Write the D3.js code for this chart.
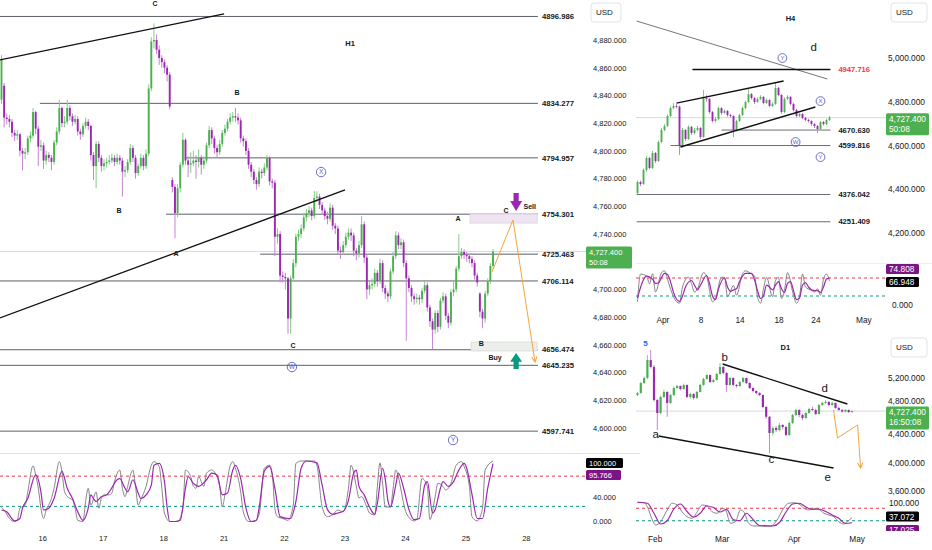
<!DOCTYPE html>
<html>
<head>
<meta charset="utf-8">
<script src="https://cdn.jsdelivr.net/npm/d3@7/dist/d3.min.js"></script>
<style>
body { margin: 0; background: #fff; }
svg { display: block; font-family: "Liberation Sans", Arial, sans-serif; }
</style>
</head>
<body>
<svg id="chart" width="932" height="550"></svg>
<script>

// ---------- H1 data (open, high, low, close) ----------
const h1Candles = [
[4837,4869,4834,4866],[4847,4849,4817,4824],[4824,4827,4819,4823],[4823,4826,4817,4821],[4821,4823,4810,4813],
[4813,4815,4807,4811],[4811,4815,4808,4812],[4812,4813,4796,4800],[4800,4802,4786,4798],[4798,4802,4794,4799],
[4799,4811,4797,4809],[4809,4814,4806,4811],[4811,4831,4809,4828],[4828,4829,4812,4816],[4816,4818,4789,4803],
[4803,4808,4800,4804],[4804,4806,4787,4793],[4793,4800,4790,4797],[4797,4799,4792,4795],[4795,4797,4786,4792],
[4792,4808,4790,4806],[4806,4817,4804,4814],[4814,4837,4812,4831],[4831,4832,4817,4820],[4820,4825,4817,4821],
[4821,4837,4819,4831],[4831,4833,4822,4825],[4825,4827,4818,4821],[4821,4826,4819,4823],[4823,4825,4811,4814],
[4814,4816,4808,4812],[4812,4820,4810,4818],[4818,4824,4816,4821],[4821,4823,4815,4818],[4818,4819,4793,4797],
[4797,4799,4779,4789],[4789,4807,4773,4805],[4805,4807,4792,4795],[4795,4797,4785,4789],[4789,4794,4786,4791],
[4791,4795,4788,4792],[4792,4797,4790,4793],[4793,4798,4791,4795],[4795,4797,4789,4792],[4792,4798,4790,4795],
[4795,4797,4790,4793],[4793,4795,4767,4785],[4785,4789,4781,4786],[4786,4794,4784,4792],[4792,4805,4790,4802],
[4802,4804,4792,4795],[4795,4797,4780,4784],[4784,4791,4782,4789],[4789,4798,4787,4795],[4795,4797,4786,4789],
[4789,4801,4787,4798],[4798,4848,4796,4845],[4845,4882,4843,4879],[4879,4892,4874,4880],[4880,4884,4870,4873],
[4873,4876,4862,4867],[4867,4869,4860,4864],[4864,4866,4856,4860],[4860,4862,4850,4855],[4855,4857,4830,4832],
[4779,4781,4770,4774],[4774,4776,4737,4755],[4755,4776,4752,4773],[4773,4792,4770,4790],[4790,4813,4788,4808],
[4808,4809,4790,4793],[4793,4796,4781,4790],[4790,4799,4784,4791],[4791,4800,4789,4793],[4793,4797,4780,4792],
[4792,4801,4788,4795],[4795,4797,4783,4790],[4790,4796,4787,4793],[4793,4806,4791,4804],[4804,4818,4802,4815],
[4815,4817,4805,4809],[4809,4811,4798,4802],[4802,4804,4795,4799],[4799,4808,4797,4805],[4805,4815,4803,4813],
[4813,4819,4811,4816],[4816,4823,4814,4821],[4821,4827,4819,4824],[4824,4828,4821,4825],[4825,4831,4821,4824],
[4824,4827,4819,4822],[4822,4824,4806,4809],[4809,4811,4803,4807],[4807,4809,4797,4800],[4800,4802,4787,4790],
[4790,4792,4781,4785],[4785,4787,4776,4779],[4779,4781,4772,4776],[4776,4788,4774,4785],[4785,4787,4780,4784],
[4784,4791,4782,4788],[4788,4797,4786,4795],[4795,4796,4775,4778],[4778,4780,4773,4777],[4777,4779,4724,4738],
[4738,4744,4733,4740],[4740,4742,4705,4710],[4710,4713,4705,4709],[4709,4712,4700,4708],[4708,4709,4668,4679],
[4679,4710,4668,4708],[4708,4722,4706,4719],[4719,4740,4716,4738],[4738,4743,4735,4740],[4740,4747,4737,4744],
[4744,4755,4742,4752],[4752,4758,4749,4755],[4755,4760,4752,4757],[4757,4759,4750,4753],[4753,4771,4751,4766],
[4766,4771,4763,4767],[4767,4769,4758,4761],[4761,4763,4754,4757],[4757,4759,4750,4753],[4753,4756,4747,4751],
[4751,4762,4749,4759],[4759,4761,4743,4746],[4746,4748,4740,4744],[4744,4746,4725,4728],[4728,4731,4722,4727],
[4727,4735,4725,4732],[4732,4741,4730,4738],[4738,4744,4736,4741],[4741,4744,4735,4739],[4739,4741,4724,4728],
[4728,4730,4721,4726],[4726,4735,4723,4732],[4732,4753,4730,4747],[4747,4749,4719,4723],[4723,4725,4693,4700],
[4700,4706,4696,4703],[4703,4708,4700,4704],[4704,4715,4702,4712],[4712,4714,4702,4706],[4706,4722,4704,4719],
[4719,4721,4698,4701],[4701,4703,4693,4697],[4697,4699,4691,4695],[4695,4715,4693,4713],[4713,4727,4711,4724],
[4724,4742,4722,4739],[4739,4741,4729,4732],[4732,4737,4729,4734],[4734,4736,4716,4719],[4719,4721,4663,4708],
[4708,4710,4698,4701],[4701,4703,4691,4695],[4695,4697,4689,4693],[4693,4697,4690,4694],[4694,4696,4689,4693],
[4693,4701,4690,4699],[4699,4706,4697,4703],[4703,4705,4684,4687],[4687,4689,4673,4677],[4677,4679,4657,4671],
[4671,4685,4668,4683],[4683,4685,4669,4673],[4673,4694,4671,4692],[4692,4698,4690,4695],[4695,4697,4678,4681],
[4681,4683,4672,4676],[4676,4700,4674,4698],[4698,4707,4695,4700],[4700,4717,4698,4715],[4715,4740,4713,4724],
[4724,4730,4722,4727],[4727,4729,4722,4725],[4725,4727,4720,4724],[4724,4726,4719,4722],[4722,4724,4716,4719],
[4719,4721,4707,4710],[4710,4712,4702,4705],[4697,4698,4680,4684],[4684,4686,4672,4679],[4679,4699,4676,4697],
[4697,4708,4695,4706],[4706,4719,4704,4717],[4717,4729,4715,4727.4]
];

// stochastic turning points [bar, value]
const h1StochK = [[0,23],[1,19],[3,5],[5,0],[6,2],[7,22],[9,27],[10,49],[12,92],[13,77],[14,55],[15,22],[16,5],[17,19],[19,38],[20,55],[22,99],[23,82],[24,49],[26,38],[27,36],[28,22],[29,2],[31,0],[32,33],[33,55],[34,27],[36,49],[37,22],[38,38],[39,44],[41,44],[42,47],[43,66],[45,85],[46,55],[47,41],[48,58],[50,85],[51,58],[52,27],[53,36],[55,58],[57,93],[58,99],[60,91],[61,55],[62,14],[64,0],[65,0],[67,0],[69,22],[70,85],[72,74],[73,58],[74,55],[75,74],[77,58],[78,80],[80,85],[81,82],[83,58],[84,24],[85,44],[87,92],[88,99],[89,88],[91,49],[92,16],[94,0],[96,0],[98,11],[100,88],[102,93],[103,80],[104,22],[105,8],[107,5],[109,2],[111,27],[112,96],[114,100],[119,100],[120,93],[122,24],[124,8],[126,11],[128,19],[130,16],[132,55],[133,93],[135,58],[136,39],[137,41],[139,24],[140,14],[142,11],[143,58],[144,97],[145,63],[146,24],[148,24],[149,55],[150,85],[151,74],[152,52],[153,30],[154,14],[157,1],[158,3],[160,71],[162,58],[163,3],[165,41],[166,63],[168,58],[169,52],[171,63],[173,93],[175,99],[176,91],[178,58],[179,8],[181,1],[183,22],[184,85],[187,100]];
const h1StochD = [[0,19],[2,16],[5,1],[7,5],[8,22],[10,38],[13,77],[15,49],[16,19],[18,22],[20,38],[23,83],[25,55],[27,38],[29,16],[31,2],[33,22],[34,44],[35,38],[36,33],[38,41],[40,44],[41,49],[44,69],[45,71],[47,55],[48,49],[50,69],[52,47],[53,38],[55,44],[57,60],[58,93],[60,96],[62,66],[63,24],[64,0],[66,0],[68,2],[70,55],[71,74],[73,63],[75,58],[78,69],[80,80],[82,77],[84,44],[86,47],[88,85],[89,93],[91,71],[93,22],[95,0],[97,2],[98,22],[100,83],[102,91],[104,55],[106,8],[109,5],[110,5],[112,33],[114,88],[116,100],[120,97],[122,60],[124,20],[126,12],[128,14],[130,17],[132,35],[134,80],[135,85],[136,58],[138,44],[140,24],[142,12],[143,30],[145,88],[146,70],[147,35],[148,24],[150,60],[151,80],[153,55],[155,20],[157,3],[159,5],[161,60],[162,66],[164,14],[165,20],[167,55],[168,66],[170,58],[172,66],[174,85],[176,96],[177,88],[179,45],[181,5],[183,5],[185,55],[187,95.766]];

const h1Levels = [4896.986, 4834.277, 4794.957, 4754.301, 4725.463, 4706.114, 4656.474, 4645.235, 4597.741];
const h1LevelStart = [-1, 14.6, 70.2, 62.6, 98.4, -1, -1, -1, -1];
const h1LevelEnd = 204.1;
const h1Trends = [[[-0.6,4865.6],[84.7,4898.8]], [[-0.6,4679.4],[130.7,4771.8]]];
const h1Letters = [["C",58.4,4906],["B",89.6,4841.8],["B",44.7,4756.6],["A",66.4,4725.6],["C",110.9,4659.2],["A",173.7,4750.8],["C",192,4756.6],["B",182.5,4661.3]];
const h1Circles = [["X",121.6,4784.7],["W",110.5,4644],["Y",171.8,4591.3]];
const h1Projection = [[186.6,4712.6],[194.6,4750.1],[203,4647.6]];
const h1SellZone = [178.3, 203.8, 4754.4, 4747.9];
const h1BuyZone = [178.7, 203.8, 4662, 4655.6];
const h1SellArrow = [195.8, 4769.6, 4756.6];
const h1BuyArrow = [195.8, 4642.6, 4654.1];
const h1DayLabels = ["16","17","18","21","22","23","24","25","28"];
const h1DayBars = [15.5, 38.5, 61.5, 84.5, 107.5, 130.5, 153.5, 176.5, 199.5];
const h1PriceTicks = [4600,4620,4640,4660,4680,4700,4740,4760,4780,4800,4820,4840,4860,4880];
const lastPrice = 4727.4;

// ---------- H4 data ----------
const h4Candles = [
[4383,4440,4378,4433],[4433,4440,4415,4424],[4424,4495,4420,4488],[4488,4552,4480,4543],[4543,4548,4490,4497],
[4497,4575,4492,4566],[4566,4570,4520,4529],[4529,4622,4525,4616],[4616,4680,4610,4671],[4671,4698,4665,4689],
[4689,4742,4684,4735],[4735,4780,4730,4771],[4771,4795,4765,4781],[4781,4790,4770,4778],[4778,4782,4557,4598],
[4598,4680,4590,4671],[4671,4675,4620,4630],[4630,4692,4625,4685],[4685,4690,4648,4657],[4657,4680,4650,4671],
[4671,4690,4665,4680],[4680,4685,4630,4639],[4639,4854,4635,4817],[4817,4830,4800,4813],[4813,4818,4745,4753],
[4753,4758,4705,4712],[4712,4730,4705,4721],[4721,4778,4715,4771],[4771,4775,4740,4749],[4749,4765,4745,4758],
[4758,4762,4732,4739],[4739,4745,4728,4735],[4735,4738,4639,4671],[4671,4718,4665,4712],[4712,4745,4708,4739],
[4739,4778,4735,4771],[4771,4805,4765,4799],[4799,4858,4795,4835],[4835,4840,4810,4817],[4817,4822,4790,4799],
[4799,4820,4795,4813],[4813,4830,4808,4822],[4822,4826,4788,4794],[4794,4815,4790,4808],[4808,4812,4775,4781],
[4781,4798,4776,4790],[4790,4886,4786,4863],[4863,4868,4825,4831],[4831,4835,4745,4753],[4753,4820,4748,4813],
[4813,4830,4808,4822],[4822,4826,4784,4790],[4790,4795,4755,4762],[4762,4768,4728,4735],[4735,4750,4730,4744],
[4744,4748,4720,4726],[4726,4730,4710,4717],[4717,4722,4705,4712],[4712,4716,4690,4698],[4698,4702,4680,4689],
[4689,4694,4657,4675],[4675,4712,4670,4707],[4707,4712,4692,4698],[4698,4722,4694,4717],[4717,4735,4712,4727.4]
];
const h4StochK = [[0,9],[1,86],[3,81],[4,59],[5,87],[6,36],[8,90],[9,95],[10,72],[11,45],[13,9],[14,5],[15,50],[17,77],[18,59],[19,36],[20,45],[22,90],[23,81],[25,9],[26,18],[28,77],[29,77],[30,23],[32,54],[33,27],[35,87],[36,95],[38,86],[39,81],[40,23],[41,5],[42,45],[43,77],[45,23],[46,68],[47,77],[48,18],[49,41],[50,90],[52,27],[53,5],[54,23],[55,86],[56,50],[58,41],[59,36],[60,45],[61,27],[62,72],[63,86],[64,66.948]];
const h4StochD = [[0,20],[2,70],[3,80],[5,72],[6,60],[7,62],[9,88],[10,85],[11,65],[12,35],[14,10],[15,25],[16,50],[18,68],[19,55],[20,42],[21,55],[23,82],[24,60],[25,25],[26,15],[27,45],[29,75],[30,50],[31,38],[32,42],[33,45],[34,65],[36,88],[38,88],[39,70],[40,40],[41,18],[42,25],[43,55],[44,50],[45,42],[46,55],[47,65],[48,45],[49,35],[50,60],[51,65],[52,40],[53,15],[54,20],[55,55],[56,62],[57,50],[58,42],[59,40],[60,40],[61,35],[62,50],[63,72],[64,74.808]];
const h4Levels = [4947.716, 4670.630, 4599.816, 4376.042, 4251.409];
const h4LevelStart = [18.3, 28, 11, -0.3, -0.3];
const h4LevelEnd = 64.3;
const h4Channel = [[[13,4794],[48.7,4895]], [[14.3,4593],[59.3,4776]]];
const h4Trend = [[-0.3,5169],[63.3,4904]];
const h4Circles = [["Y",48.3,5000],["X",61,4803],["W",52.7,4616],["Y",61,4547]];
const h4Letters = [["d",58.7,5050]];
const h4DateLabels = ["Apr","8","14","18","24","May"];
const h4DateBars = [8.3, 21, 34, 47, 59.3, 75.3];
const h4PriceTicks = [4200, 4400, 4600, 4800, 5000];

// ---------- D1 data ----------
const d1Candles = [
[4955,5000,4940,4983],[4983,5140,4975,5125],[5125,5215,5110,5196],[5196,5521,5180,5451],[5451,5592,5330,5352],
[5352,5380,4860,4884],[4884,4900,4459,4700],[4700,4950,4680,4927],[4927,5030,4910,4998],[4998,5010,4647,4842],
[4842,4970,4830,4955],[4955,5075,4940,5054],[5054,5100,5040,5082],[5082,5090,5020,5040],[5040,5115,5030,5097],
[5097,5105,4910,4927],[4927,4990,4900,4969],[4969,4980,4890,4913],[4913,5010,4900,4998],[4998,5110,4990,5097],
[5097,5200,5085,5182],[5182,5250,5170,5238],[5238,5245,5125,5139],[5139,5185,5130,5167],[5167,5270,5160,5252],
[5252,5408,5245,5352],[5352,5365,5250,5267],[5267,5280,4998,5097],[5097,5210,5085,5196],[5196,5205,5080,5097],
[5097,5110,5060,5082],[5082,5150,5070,5139],[5139,5210,5130,5196],[5196,5200,5110,5125],[5125,5135,5040,5054],
[5054,5065,4995,5012],[5012,5020,4965,4983],[4983,4995,4940,4955],[4955,4965,4770,4785],[4785,4800,4620,4647],
[4647,4660,4134,4417],[4417,4510,4380,4488],[4488,4520,4430,4459],[4459,4560,4440,4530],[4530,4545,4470,4502],
[4502,4520,4370,4389],[4389,4580,4375,4559],[4559,4690,4545,4672],[4672,4760,4660,4743],[4743,4755,4640,4672],
[4672,4690,4600,4629],[4629,4715,4615,4700],[4700,4775,4690,4757],[4757,4790,4725,4743],[4743,4760,4670,4686],
[4686,4830,4680,4813],[4813,4860,4800,4842],[4842,4884,4830,4856],[4856,4870,4800,4813],[4813,4860,4805,4842],
[4842,4850,4760,4771],[4771,4790,4730,4743],[4743,4755,4705,4721],[4721,4755,4710,4743],[4743,4750,4700,4714],
[4714,4740,4705,4727.4]
];
const d1StochK = [[0,99],[2,98],[3,81],[4.5,28],[5.5,8],[7,21],[9,68],[10.5,95],[12,88],[13.5,61],[15,41],[16.6,35],[18.1,61],[19.6,88],[21.1,85],[22.6,61],[24.2,55],[25.7,75],[26.7,68],[28.2,15],[29.7,21],[31.2,68],[32.2,61],[33.7,15],[35.2,4],[38.3,4],[40.3,4],[42.3,28],[44.3,75],[45.8,95],[47.4,97],[48.9,92],[50.4,75],[51.9,68],[53.4,75],[54.9,71],[56.5,55],[58,48],[59.5,41],[61,21],[62.5,12],[63.5,21],[65,37.072]];
const d1StochD = [[0,99],[3,95],[5,55],[7,12],[9,25],[11,72],[13,92],[15,62],[17,40],[19,55],[21,84],[23,78],[25,60],[27,70],[29,30],[31,25],[33,55],[35,30],[37,6],[41,4],[43,18],[45,60],[47,92],[49,95],[51,80],[53,70],[55,72],[57,62],[59,48],[61,35],[63,14],[65,17.025]];
const d1Lines = [[[25.8,5394],[63.6,4828]], [[6.4,4374],[59.4,3921]]];
const d1Letters = [["b",26.4,5493],["d",56.7,5054],["a",5.5,4403],["c",40.6,4049],["e",57.6,3794]];
const d1Projection = [[59.4,4743],[60.6,4346],[66.7,4530],[67.6,3921]];
const d1DateLabels = ["Feb","Mar","Apr","May"];
const d1DateBars = [5.2, 25.5, 47.3, 66.4];
const d1PriceTicks = [3600, 4000, 4400, 4800, 5200];

// ---------- drawing ----------
var svg = d3.select("#chart")
var green = "#4caf50", purple = "#9c27b0", wickGreen = "#86cc89", wickPurple = "#c584d1"
var ink = "#131722", circ = "#5b5fc7", orange = "#f5a33a"

svg.append("rect").attr("width", 932).attr("height", 550).attr("fill", "#fff")

var defs = svg.append("defs")
defs.append("marker").attr("id", "arr").attr("viewBox", "0 0 8 8").attr("refX", 7).attr("refY", 4)
	.attr("markerWidth", 7).attr("markerHeight", 7).attr("orient", "auto")
	.append("path").attr("d", "M1,1 L7,4 L1,7").attr("fill", "none").attr("stroke", orange).attr("stroke-width", 1.2)

function clip(id, x, y, w, h) {
	defs.append("clipPath").attr("id", id).append("rect").attr("x", x).attr("y", y).attr("width", w).attr("height", h)
}

function drawCandles(g, rows, x, y, bw) {
	var up = function(d) { return d[3] >= d[0] }
	g.selectAll(null).data(rows).enter().append("line")
		.attr("x1", (d, i) => x(i)).attr("x2", (d, i) => x(i))
		.attr("y1", d => y(d[1])).attr("y2", d => y(d[2]))
		.attr("stroke", d => up(d) ? wickGreen : wickPurple).attr("stroke-width", 1)
	g.selectAll(null).data(rows).enter().append("rect")
		.attr("x", (d, i) => x(i) - bw / 2).attr("width", bw)
		.attr("y", d => y(Math.max(d[0], d[3])))
		.attr("height", d => Math.max(1, Math.abs(y(d[0]) - y(d[3]))))
		.attr("fill", d => up(d) ? green : purple)
}

function segment(g, pts, x, y, color, width) {
	return g.append("line")
		.attr("x1", x(pts[0][0])).attr("y1", y(pts[0][1]))
		.attr("x2", x(pts[1][0])).attr("y2", y(pts[1][1]))
		.attr("stroke", color).attr("stroke-width", width)
}

function hline(g, x0, x1, yy, color, width, dash) {
	var l = g.append("line").attr("x1", x0).attr("x2", x1).attr("y1", yy).attr("y2", yy)
		.attr("stroke", color).attr("stroke-width", width)
	if (dash) l.attr("stroke-dasharray", dash)
	return l
}

function label(g, txt, xx, yy, size, opts) {
	opts = opts || {}
	return g.append("text").attr("x", xx).attr("y", yy).attr("dy", "0.35em")
		.attr("text-anchor", opts.anchor || "middle")
		.attr("font-size", size).attr("font-weight", opts.bold ? "bold" : "normal")
		.attr("fill", opts.fill || ink).text(txt)
}

function circled(g, items, x, y, r, fs) {
	items.forEach(function(c) {
		g.append("circle").attr("cx", x(c[1])).attr("cy", y(c[2])).attr("r", r)
			.attr("fill", "none").attr("stroke", circ).attr("stroke-width", 0.9)
		label(g, c[0], x(c[1]), y(c[2]), fs, { fill: circ })
	})
}

function tag(g, x0, yc, w, h, fill, lines, fs) {
	g.append("rect").attr("x", x0).attr("y", yc - h / 2).attr("width", w).attr("height", h)
		.attr("rx", 1.5).attr("fill", fill)
	lines.forEach(function(t, i) {
		label(g, t, x0 + 3, yc - h / 2 + 5.5 + i * 10, fs, { anchor: "start", fill: "#fff" })
	})
}

function usdBox(g, x0, y0, w, fs) {
	g.append("rect").attr("x", x0).attr("y", y0).attr("width", w).attr("height", 19).attr("rx", 3)
		.attr("fill", "#fff").attr("stroke", "#e0e3eb")
	label(g, "USD", x0 + 5, y0 + 9.5, fs, { anchor: "start" })
}

function stoch(g, k, d, x, y, x0, x1) {
	hline(g, x0, x1, y(75), "#f23645", 1, "3,3")
	hline(g, x0, x1, y(25), "#089981", 1, "3,3")
	var line = d3.line().x(p => x(p[0])).y(p => y(p[1])).curve(d3.curveMonotoneX)
	g.append("path").datum(k).attr("d", line).attr("fill", "none").attr("stroke", "#858585").attr("stroke-width", 1)
	g.append("path").datum(d).attr("d", line).attr("fill", "none").attr("stroke", "#9c27b0").attr("stroke-width", 1.2)
}

function priceAxis(g, scale, ticks, xx, fs) {
	var ax = g.append("g").attr("transform", "translate(" + xx + ",0)")
		.call(d3.axisRight(scale).tickValues(ticks).tickFormat(d3.format(",.3f")).tickSize(0).tickPadding(0))
	ax.select(".domain").remove()
	ax.selectAll("text").attr("font-size", fs).attr("font-family", "Liberation Sans, Arial, sans-serif").attr("fill", ink)
	return ax
}

function dateAxis(g, scale, bars, labels, yy, fs) {
	var ax = g.append("g").attr("transform", "translate(0," + yy + ")")
		.call(d3.axisBottom(scale).tickValues(bars).tickFormat((d, i) => labels[i]).tickSize(0).tickPadding(0))
	ax.select(".domain").remove()
	ax.selectAll("text").attr("font-size", fs).attr("font-family", "Liberation Sans, Arial, sans-serif").attr("fill", ink)
}

// ================= H1 =================
var xH1 = d3.scaleLinear().domain([0, 187]).range([1.5, 493])
var yH1 = d3.scaleLinear().domain([4600, 4880]).range([428, 40])
var ySH1 = d3.scaleLinear().domain([0, 100]).range([521.5, 461])

clip("clipH1", 0, 0, 590, 452)
var h1 = svg.append("g").attr("clip-path", "url(#clipH1)")

hline(h1, 0, 590, yH1(lastPrice), "#d6d9e0", 1)

h1Levels.forEach(function(p, i) {
	hline(h1, Math.max(0, xH1(h1LevelStart[i])), xH1(h1LevelEnd), yH1(p), "#5d606b", 1)
	label(h1, p.toFixed(3), xH1(h1LevelEnd) + 4, yH1(p), 7.7, { anchor: "start", bold: true })
})

// zones
h1.append("rect").attr("x", xH1(h1SellZone[0])).attr("width", xH1(h1SellZone[1]) - xH1(h1SellZone[0]))
	.attr("y", yH1(h1SellZone[2])).attr("height", yH1(h1SellZone[3]) - yH1(h1SellZone[2]))
	.attr("fill", "#efe5f2").attr("stroke", "#e2d4e8")
h1.append("rect").attr("x", xH1(h1BuyZone[0])).attr("width", xH1(h1BuyZone[1]) - xH1(h1BuyZone[0]))
	.attr("y", yH1(h1BuyZone[2])).attr("height", yH1(h1BuyZone[3]) - yH1(h1BuyZone[2]))
	.attr("fill", "#eceeec").attr("stroke", "#dcdedc")

drawCandles(h1, h1Candles, xH1, yH1, 1.9)

h1Trends.forEach(t => segment(h1, t, xH1, yH1, "#111", 1.3))

h1Letters.forEach(l => label(h1, l[0], xH1(l[1]), yH1(l[2]), 7, { bold: true }))
circled(h1, h1Circles, xH1, yH1, 4.7, 6.5)
label(h1, "H1", xH1(132.6), yH1(4877.8), 7.5, { bold: true })
label(h1, "Sell", xH1(201), yH1(4760), 7, { bold: true })
label(h1, "Buy", xH1(187.8), yH1(4651), 7, { bold: true })

// projection
h1.append("path").datum(h1Projection)
	.attr("d", d3.line().x(p => xH1(p[0])).y(p => yH1(p[1])))
	.attr("fill", "none").attr("stroke", orange).attr("stroke-width", 1).attr("marker-end", "url(#arr)")

// sell / buy arrows
function blockArrow(g, cx, yTail, yHead, color) {
	var mid = yTail + (yHead - yTail) * 0.45
	var pts = [[cx - 2.6, yTail], [cx + 2.6, yTail], [cx + 2.6, mid], [cx + 6, mid], [cx, yHead], [cx - 6, mid], [cx - 2.6, mid]]
	g.append("path").attr("d", d3.line()(pts) + "Z").attr("fill", color)
}
blockArrow(h1, xH1(h1SellArrow[0]), yH1(h1SellArrow[1]), yH1(h1SellArrow[2]), "#9c27b0")
blockArrow(h1, xH1(h1BuyArrow[0]), yH1(h1BuyArrow[1]), yH1(h1BuyArrow[2]), "#089981")

// pane separator + stochastic
hline(svg, 0, 640, 453.5, "#e0e3eb", 1)
var h1s = svg.append("g")
stoch(h1s, h1StochK, h1StochD, xH1, ySH1, 0, 585)

// H1 price axis
var axH1 = svg.append("g")
usdBox(axH1, 591, 3, 30, 8)
priceAxis(axH1, yH1, h1PriceTicks, 593, 7.5)
tag(axH1, 586, yH1(lastPrice) + 6, 46, 22, "#4caf50", ["4,727.400", "50:08"], 7.5)
label(axH1, "40.000", 593, ySH1(40), 7.5, { anchor: "start" })
label(axH1, "0.000", 593, ySH1(0), 7.5, { anchor: "start" })
tag(axH1, 586, 463, 37, 10, "#000", ["100.000"], 7.5)
tag(axH1, 586, 475, 35, 10, "#7b1583", ["95.766"], 7.5)
dateAxis(svg, xH1, h1DayBars, h1DayLabels, 535.5, 7.5)

// ================= H4 =================
var xH4 = d3.scaleLinear().domain([0, 64]).range([637.5, 829.5])
var yH4 = d3.scaleLinear().domain([4200, 5000]).range([233, 58])
var ySH4 = d3.scaleLinear().domain([0, 100]).range([305, 269])

clip("clipH4", 634, 0, 252, 262)
var h4 = svg.append("g").attr("clip-path", "url(#clipH4)")
hline(h4, 636, 886, yH4(lastPrice), "#d6d9e0", 1)
segment(h4, h4Trend, xH4, yH4, "#666", 0.9)
h4Levels.forEach(function(p, i) {
	var first = i === 0
	hline(h4, xH4(h4LevelStart[i]), xH4(h4LevelEnd), yH4(p), first ? "#111" : "#6a6d76", first ? 1.5 : 1)
	label(h4, p.toFixed(3), xH4(h4LevelEnd) + 8, yH4(p), 7.6, { anchor: "start", bold: true, fill: first ? "#f23645" : ink })
})
drawCandles(h4, h4Candles, xH4, yH4, 1.9)
h4Channel.forEach(t => segment(h4, t, xH4, yH4, "#111", 1.4))
circled(h4, h4Circles, xH4, yH4, 4.4, 6)
h4Letters.forEach(l => label(h4, l[0], xH4(l[1]), yH4(l[2]), 11.5))
label(h4, "H4", xH4(51), yH4(5183), 7.5, { bold: true })

hline(svg, 636, 932, 263.5, "#eceef2", 1)
stoch(svg.append("g"), h4StochK, h4StochD, xH4, ySH4, 636, 885)

var axH4 = svg.append("g")
usdBox(axH4, 891, 3, 36, 8)
priceAxis(axH4, yH4, h4PriceTicks, 888, 8.3)
tag(axH4, 886, yH4(lastPrice) + 6.5, 43, 22, "#4caf50", ["4,727.400", "50:08"], 8.3)
label(axH4, "0.000", 892, ySH4(0), 8.3, { anchor: "start" })
tag(axH4, 886, 269, 33, 10, "#7b1583", ["74.808"], 8.3)
tag(axH4, 886, 282, 33, 10, "#000", ["66.948"], 8.3)
dateAxis(svg, xH4, h4DateBars, h4DateLabels, 317, 8.3)

// ================= D1 =================
var xD1 = d3.scaleLinear().domain([0, 65]).range([637.5, 852])
var yD1 = d3.scaleLinear().domain([3600, 5200]).range([490.7, 377.7])
var ySD1 = d3.scaleLinear().domain([0, 100]).range([527, 502])

clip("clipD1", 634, 333, 252, 164)
var d1 = svg.append("g").attr("clip-path", "url(#clipD1)")
hline(d1, 636, 886, yD1(lastPrice), "#d6d9e0", 1)
drawCandles(d1, d1Candles, xD1, yD1, 2.2)
d1Lines.forEach(t => segment(d1, t, xD1, yD1, "#111", 1.4))
d1Letters.forEach(l => label(d1, l[0], xD1(l[1]), yD1(l[2]), 11.5))
d1.append("path").datum(d1Projection)
	.attr("d", d3.line().x(p => xD1(p[0])).y(p => yD1(p[1])))
	.attr("fill", "none").attr("stroke", orange).attr("stroke-width", 1).attr("marker-end", "url(#arr)")
label(d1, "5", xD1(2.4), yD1(5691), 8, { fill: "#2962ff", bold: true })
label(d1, "D1", xD1(44.8), yD1(5635), 7.5, { bold: true })

stoch(svg.append("g"), d1StochK, d1StochD, xD1, ySD1, 636, 885)

var axD1 = svg.append("g")
usdBox(axD1, 891, 338, 36, 8)
var d1Axis = priceAxis(axD1, yD1, d1PriceTicks, 888, 8.3)
// the 4,800 label sits just above the last-price tag
d1Axis.selectAll(".tick").filter(d => d === 4800).select("text").attr("y", -5)
tag(axD1, 886, yD1(lastPrice) + 7, 43, 23, "#4caf50", ["4,727.400", "16:50:08"], 8.3)
label(axD1, "100.000", 889, ySD1(100) + 1, 8.3, { anchor: "start" })
tag(axD1, 886, 530, 33, 10, "#7b1583", ["17.025"], 8.3)
tag(axD1, 886, 516.5, 33, 10, "#000", ["37.072"], 8.3)
svg.append("rect").attr("x", 636).attr("y", 531).attr("width", 296).attr("height", 19).attr("fill", "#fff")
dateAxis(svg, xD1, d1DateBars, d1DateLabels, 536.5, 8.3)

</script>
</body>
</html>
